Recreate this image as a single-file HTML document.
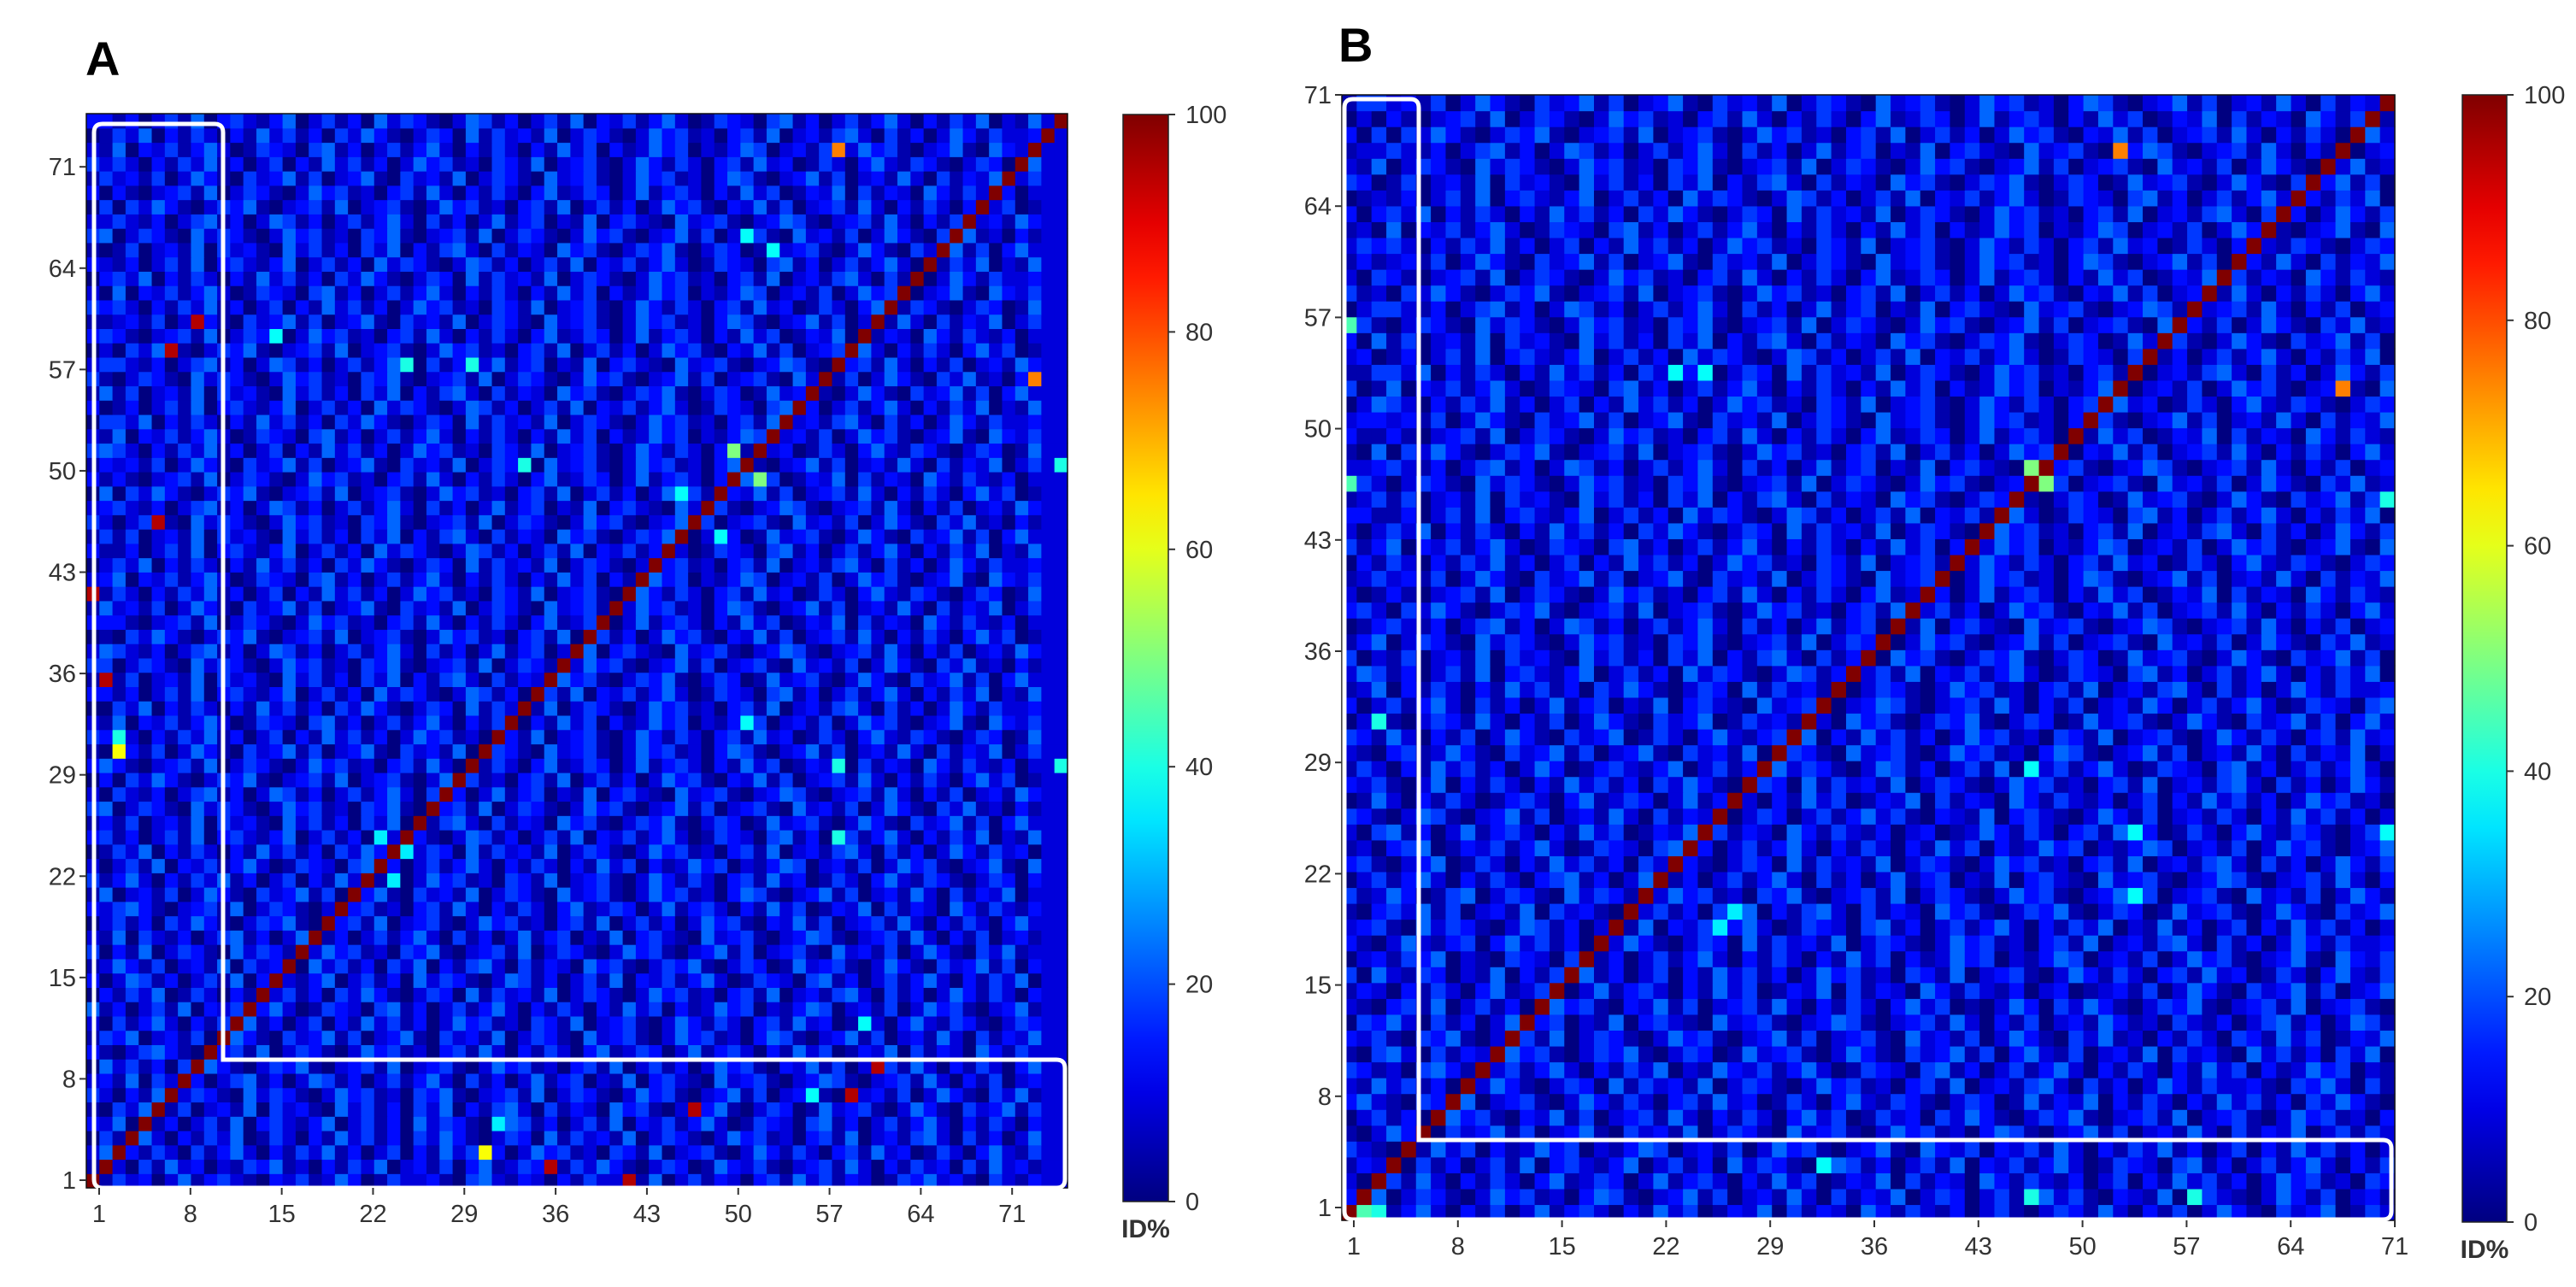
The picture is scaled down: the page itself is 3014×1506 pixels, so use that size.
<!DOCTYPE html>
<html><head><meta charset="utf-8"><style>
html,body{margin:0;padding:0;background:#fff;}
svg{display:block;}
text{font-family:"Liberation Sans",sans-serif;fill:#333;}
</style></head><body>
<svg id="fig" width="3014" height="1506" viewBox="0 0 3014 1506" xmlns="http://www.w3.org/2000/svg"></svg>
<script>
// Panel A data: digit d -> identity d*4.5 %, row 0 = bottom
const rowsA = [
"3142302513421032412530142231045213203142231502413203415241320143523104213",
"1320415230214351203142502314035124301425310243015324102341520314230415231",
"2503142041352031425130240315241302534120431502341025314203415230142035214",
"0413520314250142031524130425310243051423150243102534120341502314520413025",
"3250413024150342135024130524310254130241503241352014320451302413520314203",
"1042531402315042310524130425031452041320534102435102430152341025310423514",
"4203150243105243102534120435102341502431025341023514023410523140253104251",
"2315042130245130254130241352041302513402150342105234102354102341520314023",
"0524130425310243510234150234102534120341502413025341032514023415203142035",
"3102453102341502431025341203415203142035124302513420315240132504132053142",
"1435023140253104235140235104231502431052341025341203541023514023152041325",
"2041352031425130240315241302534120431502341025314203415230142035214310243",
"5130241503241352014320451302413520314203152403125340213540231402534102351",
"0314250142031524130425310243051423150243102534120341502314520413025314203",
"3025413024150342135024130524310254130241503241352014320451302413520314250",
"1253140231504231052413042503145204132053410243510243015234102531042351403",
"4031502431052431025341204351023415024310253410235140234105231402531042512",
"2150421302451302541302413520413025134021503421052341023541023415203140231",
"0241304253102435102341502341025341203415024130253410325140234152031420352",
"3245310234150243102534120341520314203512430251342031524013250413205314213",
"1502314025310423514023510423150243105234102534120354102351402315204132502",
"4135203142513024031524130253412043150234102531420341523014203521431024303",
"2024150324135201432045130241352031420315240312534021354023140253410235105",
"0142503142031524130425310243051423150243102534120341502314520413025314230",
"3413024150342135024130524310254130241503241352014320451302413520314250215",
"1314023150423105241304250314520413205341024351024301523410253104235140352",
"4502431052431025341204351023415024310253410235140234105231402531042512031",
"2042130245130254130241352041302513402150342105234102354102341520314023153",
"0304253102435102341502341025341203415024130253410325140234152031420352401",
"3531023415024310253412034152031420351243025134203152401325041320531421302",
"1023140253104235140235104231502431052341025341203541023514023152041325024",
"4342031425130240315241302534120431502341025314203415230142035214310243015",
"2150324135201432045130241352031420315240312534021354023140253410235105324",
"0042503142031524130425310243051423150243102534120341502314520413025314223",
"3313024150342135024130524310254130241503241352014320451302413520314250215",
"1214023150423105241304250314520413205341024351024301523410253104235140352",
"4402431052431025341204351023415024310253410235140234105231402531042512031",
"2542130245130254130241352041302513402150342105234102354102341520314023153",
"0104253102435102341502341025341203415024130253410325140234152031420352401",
"3331023415024310253412034152031420351243025134203152401325041320531421302",
"1523140253104235140235104231502431052341025341203541023514023152041325024",
"4142031425130240315241302534120431502341025314203415230142035214310243015",
"2350324135201432045130241352031420315240312534021354023140253410235105324",
"0242503142031524130425310243051423150243102534120341502314520413025314223",
"3113024150342135024130524310254130241503241352014320451302413520314250215",
"1414023150423105241304250314520413205341024351024301523410253104235140352",
"4202431052431025341204351023415024310253410235140234105231402531042512031",
"2342130245130254130241352041302513402150342105234102354102341520314023153",
"0504253102435102341502341025341203415024130253410325140234152031420352401",
"3131023415024310253412034152031420351243025134203152401325041320531421302",
"1323140253104235140235104231502431052341025341203541023514023152041325024",
"4542031425130240315241302534120431502341025314203415230142035214310243015",
"2150324135201432045130241352031420315240312534021354023140253410235105324",
"0442503142031524130425310243051423150243102534120341502314520413025314223",
"3013024150342135024130524310254130241503241352014320451302413520314250215",
"1514023150423105241304250314520413205341024351024301523410253104235140352",
"4102431052431025341204351023415024310253410235140234105231402531042512031",
"2442130245130254130241352041302513402150342105234102354102341520314023153",
"0204253102435102341502341025341203415024130253410325140234152031420352401",
"3431023415024310253412034152031420351243025134203152401325041320531421302",
"1123140253104235140235104231502431052341025341203541023514023152041325024",
"4342031425130240315241302534120431502341025314203415230142035214310243015",
"2050324135201432045130241352031420315240312534021354023140253410235105324",
"0342503142031524130425310243051423150243102534120341502314520413025314223",
"3213024150342135024130524310254130241503241352014320451302413520314250215",
"1014023150423105241304250314520413205341024351024301523410253104235140352",
"4502431052431025341204351023415024310253410235140234105231402531042512031",
"2242130245130254130241352041302513402150342105234102354102341520314023153",
"0404253102435102341502341025341203415024130253410325140234152031420352401",
"3031023415024310253412034152031420351243025134203152401325041320531421302",
"1423140253104235140235104231502431052341025341203541023514023152041325024",
"4242031425130240315241302534120431502341025314203415230142035214310243015",
"2150324135201432045130241352031420315240312534021354023140253410235105324",
"0142503142031524130425310243051423150243102534120341502314520413025314223",
"3313024150342135024130524310254130241503241352014320451302413520314250215"
];
const diagA = Array(75).fill(100);
// [col,row,value]
const highlightsA = [[57,72,75],[72,56,75],[2,30,62],[30,2,62],[8,60,95],[6,58,95],[5,46,95],[1,35,95],[46,5,95],[58,6,95],[60,8,95],[35,1,95],[41,0,95],[0,41,95],[49,51,50],[51,49,50],[50,66,38],[52,65,38],[33,50,40],[57,24,40],[57,29,40],[2,31,40],[14,59,38],[29,57,40],[24,57,40],[50,32,38],[48,45,38],[45,48,38],[22,24,36],[23,21,36],[24,23,36],[59,11,38],[55,6,38],[31,4,36],[74,29,40],[74,50,40]];
const ticksA = [1,8,15,22,29,36,43,50,57,64,71];

// Panel B data
const rowsB = [
"04213520314025134203152401325041320531421302410243152031402531042350142",
"31502431025341203541023514023152041325024302413524103215034210253140231",
"20341520314203512430251342031524013250413205314213024031524130253412043",
"13250413024150342135024130524310254130241503241352014320451302413520314",
"42103152403125340213540231402534102351053240324152031425130240315241302",
"10253104235140235104231502431052341025341203541023514023152041325024142",
"02413025341032514023415203142035240142304253102435102341502341025341203",
"35210431502341025314203415230142035214310243015132503142031524130425310",
"21524130425310243051423150243102534120341502314520413025314223104352041",
"43120453102413520314250215324135201432045130241352031420315240312534021",
"10452041320534102435102430152341025310423514035214023150423105241304250",
"32410435102341502431025341023514023410523140253104251203142043152401325",
"04352041302513402150342105234102354102341520314023153120421302451302541",
"21034150241302534103251402341520314203524010253042531024351023415023410",
"13203142035124302513420315240132504132053142130230123140253104235140235",
"40521430215031425130240315241302534120431502341025314203415230142035214",
"02314350210432045130241352031420315240312534021354023140253410235105324",
"31025213403524130425310243051423150243102534120341502314520413025314223",
"23410524310254130241503241352014320451302413520314250215130240315241302",
"10342514023150423105241304250314520413205341024351024301523410253104235",
"41253014502431052431025341204351023415024310253410235140234105231402531",
"02413520314203451302541302413520413025134021503421052341023541023415203",
"34102350142031524130425310243051423150243102534120341502314520413025314",
"12034501324135201432045130241352031420315240312534021354023140253410235",
"20451302513420315240132504132053142130230125314203415230142035214310243",
"43102541023514023152041325024302413524103215034210253140231420315241302",
"01520314201342035124302513420315240132504132053142130240315241302534120",
"32410250314203152413042531024305142315024310253412034150231452041302531",
"14203152413025301342135024130524310254130241503241352014320451302413520",
"21034125310423514023510423150243105234102534120354102351402315204132502",
"43152031402531042350142035213425031524130253412043150234102531420341523",
"02310243152031402531042350142314205341024351024301523410253104235140352",
"30241352041302513402150342105234102354102341520314023153024135201432045",
"12503142031524130425310243051423150243102534120341502314520413025314223",
"25413024150342135024130524310254130241503241352014320451302413520314250",
"40214023150423105241304250314520413205341024351024301523410253104235140",
"13502431052431025341204351023415024310253410235140234105231402531042512",
"01342130245130254130241352041302513402150342105234102354102341520314023",
"34204253102435102341502341025341203415024130253410325140234152031420352",
"20131023415024310253412034152031420351243025134203152401325041320531421",
"12423140253104235140235104231502431052341025341203541023514023152041325",
"03142031425130240315241302534120431502341025314203415230142035214310243",
"41350324135201432045130241352031420315240312534021354023140253410235105",
"20242503142031524130425310243051423150243102534120341502314520413025314",
"33113024150342135024130524310254130241503241352014320451302413520314250",
"12414023150423105241304250314520413205341024351024301523410253104235140",
"04202431052431025341204351023415024310253410235140234105231402531042512",
"22342130245130254130241352041302513402150342105234102354102341520314023",
"10504253102435102341502341025341203415024130253410325140234152031420352",
"31131023415024310253412034152031420351243025134203152401325041320531421",
"23323140253104235140235104231502431052341025341203541023514023152041325",
"02542031425130240315241302534120431502341025314203415230142035214310243",
"40150324135201432045130241352031420315240312534021354023140253410235105",
"11442503142031524130425310243051423150243102534120341502314520413025314",
"23013024150342135024130524310254130241503241352014320451302413520314250",
"30514023150423105241304250314520413205341024351024301523410253104235140",
"14102431052431025341204351023415024310253410235140234105231402531042512",
"02442130245130254130241352041302513402150342105234102354102341520314023",
"41204253102435102341502341025341203415024130253410325140234152031420352",
"20431023415024310253412034152031420351243025134203152401325041320531421",
"13123140253104235140235104231502431052341025341203541023514023152041325",
"24342031425130240315241302534120431502341025314203415230142035214310243",
"12050324135201432045130241352031420315240312534021354023140253410235105",
"30342503142031524130425310243051423150243102534120341502314520413025314",
"01213024150342135024130524310254130241503241352014320451302413520314250",
"43014023150423105241304250314520413205341024351024301523410253104235140",
"21502431052431025341204351023415024310253410235140234105231402531042512",
"12242130245130254130241352041302513402150342105234102354102341520314023",
"30404253102435102341502341025341203415024130253410325140234152031420352",
"02031023415024310253412034152031420351243025134203152401325041320531421",
"14423140253104235140235104231502431052341025341203541023514023152041325"
];
const diagB = Array(71).fill(100);
const highlightsB = [[52,67,75],[67,52,75],[46,47,50],[47,46,50],[1,0,45],[2,0,40],[0,56,45],[0,46,45],[2,31,40],[24,53,38],[22,53,38],[46,28,38],[53,24,38],[53,20,38],[57,1,40],[46,1,40],[25,18,36],[26,19,36],[70,45,40],[70,24,38],[32,3,38]];
const ticksB = [1,8,15,22,29,36,43,50,57,64,71];
const cbTicks = [0,20,40,60,80,100];

const NS = "http://www.w3.org/2000/svg";
const svg = document.getElementById('fig');
function el(tag, attrs, parent){
  const e = document.createElementNS(NS, tag);
  for (const k in attrs) e.setAttribute(k, attrs[k]);
  (parent || svg).appendChild(e);
  return e;
}
function clamp(v){return Math.max(0, Math.min(1, v));}
function jet(p){
  const x = p/100;
  const r = clamp(1.5 - Math.abs(4*x - 3)), g = clamp(1.5 - Math.abs(4*x - 2)), b = clamp(1.5 - Math.abs(4*x - 1));
  return 'rgb(' + Math.round(r*255) + ',' + Math.round(g*255) + ',' + Math.round(b*255) + ')';
}

function panel(cfg){
  const g = el('g', {});
  
  
  const n = cfg.n;
  const cw = (cfg.right - cfg.left) / n, ch = (cfg.bottom - cfg.top) / n;
  const xs = c => cfg.left + c * cw;
  const ys = r => cfg.bottom - (r + 1) * ch;
  const hl = {};
  cfg.highlights.forEach(h => { hl[h[0] + ',' + h[1]] = h[2]; });
  const cells = el('g', {}, g);
  
  
  for (let r = 0; r < n; r++){
    const row = cfg.rows[r] || '';
    for (let c = 0; c < n; c++){
      let v;
      if (r === c) v = cfg.diag[r];
      else if (hl[c + ',' + r] !== undefined) v = hl[c + ',' + r];
      else { const d = parseInt(row.charAt(c)); v = (isNaN(d) ? 2 : d) * 4.5; }
      const rc = el('rect', {x: xs(c).toFixed(2), y: ys(r).toFixed(2), width: (cw + 0.6).toFixed(2), height: (ch + 0.6).toFixed(2), fill: jet(v)}, cells);
      
      
    }
  }
  const fr = el('rect', {x: cfg.left, y: cfg.top, width: cfg.right - cfg.left, height: cfg.bottom - cfg.top, fill: 'none', stroke: '#111', 'stroke-width': 1.5}, g);
  
  
  const L = cfg.box, rad = 10;
  const d = 'M' + (L.x0 + rad) + ',' + L.y0 + ' L' + (L.x1 - rad) + ',' + L.y0 + ' Q' + L.x1 + ',' + L.y0 + ' ' + L.x1 + ',' + (L.y0 + rad) +
    ' L' + L.x1 + ',' + L.ym + ' L' + (L.x2 - rad) + ',' + L.ym + ' Q' + L.x2 + ',' + L.ym + ' ' + L.x2 + ',' + (L.ym + rad) +
    ' L' + L.x2 + ',' + (L.y2 - rad) + ' Q' + L.x2 + ',' + L.y2 + ' ' + (L.x2 - rad) + ',' + L.y2 +
    ' L' + (L.x0 + rad) + ',' + L.y2 + ' Q' + L.x0 + ',' + L.y2 + ' ' + L.x0 + ',' + (L.y2 - rad) +
    ' L' + L.x0 + ',' + (L.y0 + rad) + ' Q' + L.x0 + ',' + L.y0 + ' ' + (L.x0 + rad) + ',' + L.y0 + ' Z';
  const bx = el('path', {d: d, fill: 'none', stroke: '#fff', 'stroke-width': 5}, g);
  
  
  cfg.ticks.forEach(k => {
    const x = cfg.xt0 + (k - 1) * cfg.xtStep;
    el('line', {x1: x, y1: cfg.bottom, x2: x, y2: cfg.bottom + 8, stroke: '#333', 'stroke-width': 2}, g);
    const t = el('text', {x: x, y: cfg.bottom + 40, 'font-size': 29, 'text-anchor': 'middle'}, g);
    t.textContent = k;
    
    
    const y = cfg.yt0 - (k - 1) * cfg.ytStep;
    el('line', {x1: cfg.left - 8, y1: y, x2: cfg.left, y2: y, stroke: '#333', 'stroke-width': 2}, g);
    const ty = el('text', {x: cfg.left - 12, y: y + 10, 'font-size': 29, 'text-anchor': 'end'}, g);
    ty.textContent = k;
    
    
  });
  const cb = cfg.cb, gid = 'jet' + cfg.name;
  const defs = el('defs', {}, g);
  const lg = el('linearGradient', {id: gid, x1: 0, y1: 1, x2: 0, y2: 0}, defs);
  for (let i = 0; i <= 20; i++){ el('stop', {offset: i/20, 'stop-color': jet(i*5)}, lg); }
  const cbr = el('rect', {x: cb.x0, y: cb.y0, width: cb.x1 - cb.x0, height: cb.y1 - cb.y0, fill: 'url(#' + gid + ')', stroke: '#222', 'stroke-width': 1.5}, g);
  
  
  cbTicks.forEach(v => {
    const y = cb.y1 - (v/100) * (cb.y1 - cb.y0);
    el('line', {x1: cb.x1, y1: y, x2: cb.x1 + 8, y2: y, stroke: '#333', 'stroke-width': 2}, g);
    const t = el('text', {x: cb.x1 + 20, y: y + 10, 'font-size': 29}, g);
    t.textContent = v;
    
    
  });
  const idl = el('text', {x: (cb.x0 + cb.x1)/2, y: cb.y1 + 42, 'font-size': 30, 'font-weight': 'bold', 'text-anchor': 'middle'}, g);
  idl.textContent = 'ID%';
  
  
  const pl = el('text', {x: cfg.labelX, y: cfg.labelY, 'font-size': 56, 'font-weight': 'bold', style: 'fill:#000'}, g);
  pl.textContent = cfg.label;
  
  
}

panel({name: 'panel-a', label: 'A', labelX: 100, labelY: 88, n: 75, rows: rowsA, diag: diagA, highlights: highlightsA, ticks: ticksA,
  left: 101, right: 1249, top: 133, bottom: 1390,
  xt0: 116, xtStep: 15.26, yt0: 1381, ytStep: 16.94,
  box: {x0: 110, y0: 145, x1: 261, ym: 1240, x2: 1246, y2: 1390},
  cb: {x0: 1314, x1: 1367, y0: 134, y1: 1406}});
panel({name: 'panel-b', label: 'B', labelX: 1566, labelY: 72, n: 71, rows: rowsB, diag: diagB, highlights: highlightsB, ticks: ticksB,
  left: 1570, right: 2802, top: 111, bottom: 1428,
  xt0: 1584, xtStep: 17.4, yt0: 1413, ytStep: 18.6,
  box: {x0: 1573, y0: 116, x1: 1660, ym: 1334, x2: 2798, y2: 1427},
  cb: {x0: 2881, x1: 2933, y0: 111, y1: 1430}});
</script>
</body></html>
